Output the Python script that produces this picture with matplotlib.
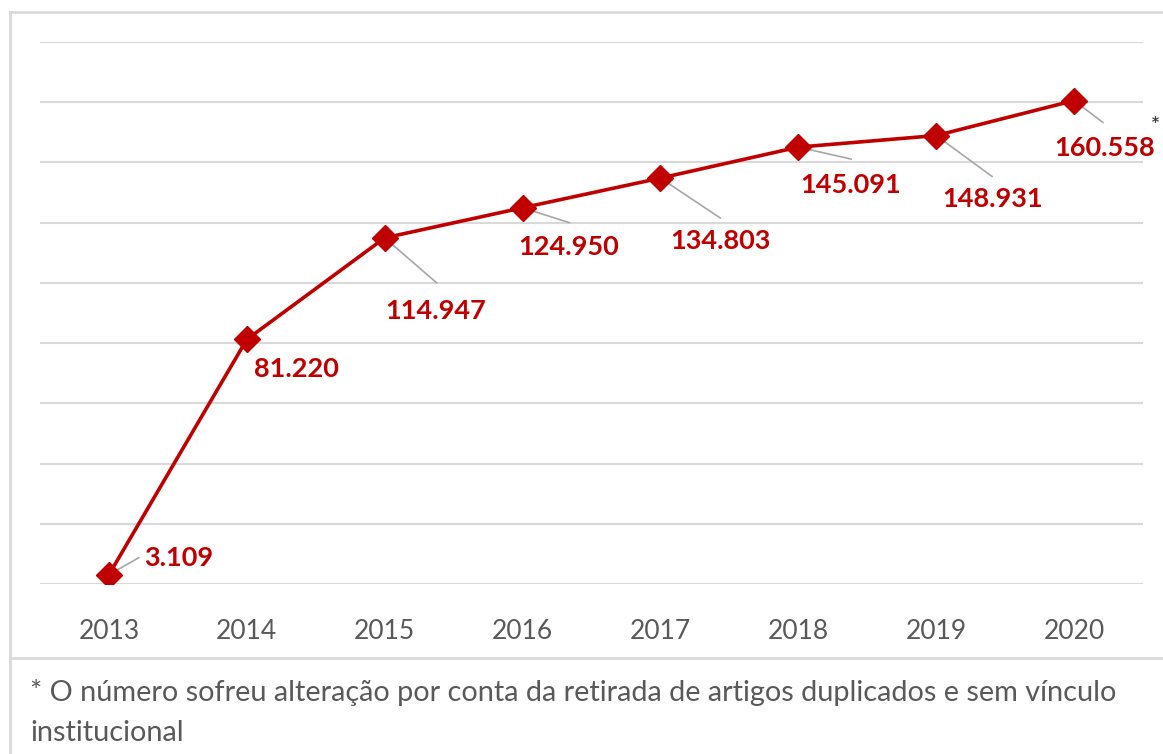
import matplotlib
matplotlib.use("Agg")
import matplotlib.pyplot as plt
from matplotlib.lines import Line2D

plt.rcParams['font.family'] = ['Lato', 'DejaVu Sans']

# data
years = ['2013', '2014', '2015', '2016', '2017', '2018', '2019', '2020']
artigos = [3109, 81220, 114947, 124950, 134803, 145091, 148931, 160558]

# label placement in pixels relative to each point: (text dx, text dy, leader dx, leader dy), dy downwards
label_pos = [
    (70, -17, 30, -17),
    (50, 30, None, None),
    (51, 73, 52, 45),
    (46, 39, 47, 15),
    (60, 63, 60, 40),
    (52, 38, 53, 12),
    (56, 63, 56, 41),
    (31, 47, 29, 22),
]

W, H = 1163, 754
fig = plt.figure(figsize=(W / 100, H / 100), dpi=100)
fig.patch.set_facecolor('white')

ax = fig.add_axes([40 / W, 1 - 584 / H, (1143 - 40) / W, (584 - 42) / H])
x = list(range(len(years)))
red = '#C00000'
grid = '#D9D9D9'

ax.set_ylim(0, 180000)
ax.set_xlim(-0.5, len(years) - 0.5)
ax.set_yticks(range(0, 180001, 20000))
ax.yaxis.grid(True, color=grid, lw=1.5)
ax.set_axisbelow(True)
for s in ax.spines.values():
    s.set_visible(False)
ax.tick_params(axis='y', left=False, labelleft=False)
ax.set_xticks(x)
ax.set_xticklabels(years)
ax.tick_params(axis='x', bottom=False, pad=22, labelsize=19, labelcolor='#595959')

ax.plot(x, artigos, color=red, lw=2.6, marker='D', markersize=13, zorder=3)

for i, v in enumerate(artigos):
    tx, ty, lx, ly = label_pos[i]
    if lx is not None:
        ax.annotate('', xy=(i, v), xytext=(lx, -ly), textcoords='offset pixels',
                    arrowprops=dict(arrowstyle='-', color='#A6A6A6', lw=1.2,
                                    shrinkA=0, shrinkB=0), zorder=2)
    lab = f"{v:,}".replace(',', '.')
    ax.annotate(lab, xy=(i, v), xytext=(tx, -ty), textcoords='offset pixels',
                ha='center', va='center', fontsize=19.5, fontweight='bold',
                color=red, zorder=4)

# asterisk next to last value
fig.text(1155 / W, 1 - 126 / H, '*', ha='center', va='center', fontsize=15,
         fontweight='bold', color='#404040')

# frame around chart and footnote
def fline(xs, ys):
    fig.add_artist(Line2D([a / W for a in xs], [1 - b / H for b in ys],
                          color=grid, lw=2, transform=fig.transFigure))

fline([10, 10], [12, 754])
fline([10, 1163], [12, 12])
fline([10, 1163], [658, 658])

fig.text(30 / W, 1 - 693 / H, '* O número sofreu alteração por conta da retirada de artigos duplicados e sem vínculo',
         ha='left', va='center', fontsize=20.8, color='#595959')
fig.text(30 / W, 1 - 733 / H, 'institucional',
         ha='left', va='center', fontsize=20.8, color='#595959')

fig.savefig('out.png', dpi=100)
